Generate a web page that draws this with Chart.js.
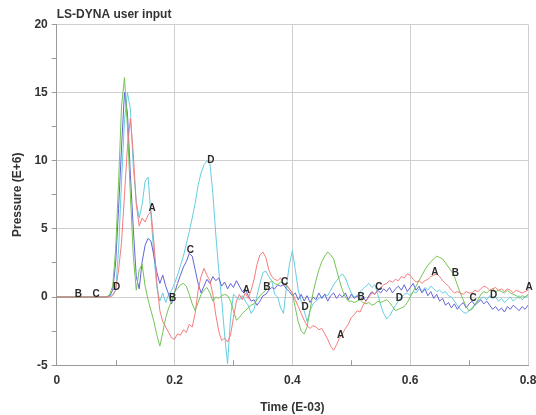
<!DOCTYPE html>
<html>
<head>
<meta charset="utf-8">
<script src="https://cdn.jsdelivr.net/npm/chart.js@4"></script>
<style>
  body { margin: 0; background: #fff; }
  #wrap { width: 536px; height: 415px; position: relative; }
</style>
</head>
<body>
<div id="wrap"><canvas id="myChart"></canvas></div>
<script>
const timeStep = 0.005;

const curveA = [
  0, 0, 0, 0, 0, 0, 0, 0, 0, 0,
  0, 0, 0, 0, 0, 0, 0, 0, 0, 0.1,
  0.5, 2.0, 4.0, 7.5, 11.0, 13.1, 10.5, 6.8, 5.2, 5.8,
  5.5, 6.0, 6.3, 4.0, 1.0, -1.0, -1.8, -2.2, -2.6, -3.0,
  -3.1, -2.7, -2.8, -2.4, -2.6, -2.0, -2.2, -1.2, 0.5, 1.5,
  2.1, 1.6, 1.2, 0.2, -1.3, -2.5, -3.2, -3.0, -3.3, -2.8,
  -1.5, -0.3, 0.2, -0.2, 0.3, -0.1, 0.5, 1.3, 2.4, 3.1,
  3.3, 2.9, 2.0, 1.5, 1.3, 1.2, 1.4, 1.0, 0.9, 0.6,
  0.3, -0.2, -0.7, -1.2, -1.7, -2.1, -2.3, -2.1, -2.2, -2.4,
  -2.3, -2.7, -3.1, -3.6, -3.9, -3.5, -3.0, -2.7, -2.3, -2.0,
  -1.5, -1.3, -1.0, -1.1, -0.6, -0.3, 0, 0.3, 0.2, 0.5,
  0.7, 0.9, 1.0, 1.2, 1.1, 1.3, 1.2, 1.5, 1.4, 1.7,
  1.6, 1.3, 1.1, 1.2, 1.0, 1.2, 1.3, 1.5, 1.6, 1.7,
  1.5, 1.2, 1.0, 0.8, 0.5, 0.3, 0.4, 0.3, 0.2, 0.4,
  0.3, 0.3, 0.5, 0.4, 0.6, 0.8, 0.7, 0.5, 0.6, 0.7,
  0.5, 0.6, 0.4, 0.6, 0.5, 0.3, 0.5, 0.4, 0.3, 0.4,
  0.5
];

const curveB = [
  0, 0, 0, 0, 0, 0, 0, 0, 0, 0,
  0, 0, 0, 0, 0, 0, 0, 0, 0.2, 0.8,
  3.5, 8.5, 14.0, 16.1, 12.5, 7.5, 3.0, 0.5, 2.0, 2.4,
  0.8, -0.2, -1.0, -1.8, -2.8, -3.6, -2.6, -1.5, -0.8, -0.3,
  0.4, 0.6, 0.9, 1.0, 0.8, 0.2, -0.5, -1.0, -0.4, 0.2,
  0.5, 0.7, 0.3, -0.3, 0, -0.1, 0.1, 0.2, 0.1, -0.3,
  -1.0, -1.7, -1.5, -1.2, -1.0, -0.8, -0.6, -0.5, -0.2, 0.1,
  0.3, 0.5, 1.0, 1.2, 1.0, 0.9, 1.1, 1.0, 0.8, 0.6,
  0.3, -0.8, -1.8, -2.5, -2.7, -2.2, -1.0, 0.3, 1.2, 2.0,
  2.6, 3.0, 3.3, 3.1, 2.8, 2.0, 1.2, 0.5, 0, -0.3,
  -0.3, -0.4, -0.3, -0.2, -0.4, -0.5, -0.4, -0.6, -0.5, -0.3,
  -0.4, -0.3, -0.2, -0.4, -0.7, -1.0, -0.9, -0.8, -0.7, -0.4,
  0, 0.4, 0.8, 1.2, 1.6, 2.0, 2.3, 2.6, 2.8, 3.0,
  2.9, 2.8, 2.5, 2.2, 1.9, 1.5, 0.9, 0.3, -0.2, -0.7,
  -1.0, -0.9, -0.6, -0.2, 0.2, 0.4, 0.3, 0.5, 0.6, 0.4,
  0.5, 0.4, 0.3, 0.5, 0.3, 0.2, 0.1, -0.1, 0.1, 0,
  0.2
];

const curveC = [
  0, 0, 0, 0, 0, 0, 0, 0, 0, 0,
  0, 0, 0, 0, 0, 0, 0, 0, 0.1, 0.5,
  2.5, 6.5, 11.0, 15.0, 13.5, 9.0, 5.0, 1.5, 0.6, 2.6,
  3.8, 4.3, 4.1, 3.0, 1.8, 1.0, 1.6, 0.8, 0.2, -0.5,
  0.3, 1.0, 1.6, 2.2, 2.6, 3.2, 3.0, 2.0, 1.0, 0.3,
  0.8, 1.3, 1.0, 1.5, 1.2, 1.4, 0.8, 1.1, 0.6, 1.0,
  0.7, 1.2, 0.8, 0.4, 0.6, 0.1, -0.3, -0.2, -0.6, -0.3,
  0.1, 0.2, 0.5, 0.7, 0.6, 0.9, 0.8, 0.9, 0.6, 0.4,
  0.1, 0.3, -0.2, 0.2, -0.3, 0.1, -0.4, 0, -0.2, 0.3,
  -0.1, 0.2, -0.3, 0.1, 0.3, -0.1, 0.2, 0, 0.3, -0.2,
  0.2, -0.1, 0.1, -0.2, 0, -0.3, 0.1, 0.4, 0.2, 0.5,
  0.3, 0.6, 0.4, 0.7, 0.3, 0.6, 0.8, 0.5, 0.9, 0.4,
  0.7, 1.0, 0.5, 0.8, 0.3, 0.6, 0.1, 0.4, -0.1, 0.2,
  -0.3, -0.1, -0.6, -0.4, -0.8, -0.5, -0.9, -0.6, -0.4, -0.8,
  -0.5, -0.3, -0.6, -0.4, -0.2, -0.5, -0.3, -0.6, -0.9, -0.7,
  -1.0, -0.8, -1.1, -0.7, -0.9, -0.6, -0.8, -1.0, -0.7, -0.9,
  -0.6
];

const curveD = [
  0, 0, 0, 0, 0, 0, 0, 0, 0, 0,
  0, 0, 0, 0, 0, 0, 0, 0, 0.1, 0.2,
  0.5, 3.5, 8.5, 13.0, 15.0, 13.8, 9.5, 7.0, 5.8, 6.8,
  8.5, 8.8, 6.0, 3.0, 0.7, -0.3, 0.3, -0.4, 0.2, 0.5,
  1.0, 1.6, 2.3, 3.0, 3.9, 4.8, 5.8, 6.9, 8.2, 9.1,
  9.7, 10.0, 9.8, 7.6, 4.6, 2.0, -0.2, -2.8, -4.9, -1.5,
  0.2, 0, -0.2, 0.1, -0.3, -0.6, -1.2, -0.9, 0.1, 1.0,
  1.8, 1.9, 1.5, 1.2, 0.2, 0.0, -0.8, -1.2, 0.8, 2.4,
  3.4, 2.0, 0.5, -0.3, -1.0, -1.8, -1.0, -0.5, -0.3, -0.1,
  0, 0.2, 0.1, 0.5, 0.9, 1.2, 1.5, 1.7, 1.4, 0.8,
  0.3, 0, 0.1, 0.4, 0.6, 0.8, 1.0, 0.7, 0.9, 0.2,
  -0.6, -1.2, -1.6, -1.4, -1.0, -0.6, -0.3, 0, 0.2, 0.3,
  0.1, 0.4, 0.3, 0.6, 0.4, 0.7, 0.5, 0.8, 0.6, 0.4,
  0.5, 0.3, 0.4, 0.1, 0, -0.3, -0.6, -0.9, -1.1, -1.2,
  -1.0, -0.8, -0.5, -0.3, -0.1, 0, -0.2, 0.1, -0.1, 0,
  -0.3, -0.1, -0.4, -0.2, 0, -0.3, -0.1, 0.1, -0.2, 0,
  0.1
];

// sample indices where the curve letter is printed
const lettersA = [32, 64, 96, 128, 160];
const lettersB = [7, 39, 71, 103, 135];
const lettersC = [13, 45, 77, 109, 141];
const lettersD = [20, 52, 84, 116, 148];

const minorTimes = [0.1, 0.3, 0.5, 0.7];

Chart.defaults.font.family = '"Liberation Sans", Arial, sans-serif';
Chart.defaults.color = '#333';

function toPoints(values) {
    return values.map((v, i) => ({ x: i * timeStep, y: v }));
}

const curveLetters = {
    id: 'curveLetters',
    afterDraw(chart) {
        const ctx = chart.ctx;
        ctx.save();
        // inward minor ticks on the time axis
        const xs = chart.scales.x;
        const bottom = chart.chartArea.bottom;
        ctx.strokeStyle = '#9a9a9a';
        ctx.lineWidth = 1;
        minorTimes.forEach((t) => {
            const px = Math.round(xs.getPixelForValue(t)) + 0.5;
            ctx.beginPath();
            ctx.moveTo(px, bottom);
            ctx.lineTo(px, bottom - 5);
            ctx.stroke();
        });
        ctx.font = 'bold 10px "Liberation Sans", Arial, sans-serif';
        ctx.fillStyle = '#2a2a2a';
        ctx.textAlign = 'center';
        ctx.textBaseline = 'middle';
        chart.data.datasets.forEach((ds, k) => {
            const meta = chart.getDatasetMeta(k);
            ds.letterAt.forEach((i) => {
                const p = meta.data[i];
                if (p) ctx.fillText(ds.label, p.x + 1, p.y - 3);
            });
        });
        ctx.restore();
    }
};

function createChart() {
    const ctx = document.getElementById('myChart').getContext('2d');
    const mk = (label, values, color, letters) => ({
        label: label,
        data: toPoints(values),
        borderColor: color,
        borderWidth: 1,
        pointRadius: 0,
        tension: 0,
        letterAt: letters
    });
    const config = {
        type: 'line',
        data: {
            datasets: [
                mk('A', curveA, '#f47c7c', lettersA),
                mk('B', curveB, '#74c455', lettersB),
                mk('C', curveC, '#6464d8', lettersC),
                mk('D', curveD, '#66cde0', lettersD)
            ]
        },
        options: {
            responsive: true,
            maintainAspectRatio: false,
            animation: false,
            layout: { padding: { left: 5, top: 0, right: 0, bottom: 0 } },
            scales: {
                x: {
                    type: 'linear',
                    min: 0,
                    max: 0.8,
                    afterFit: (s) => { s.paddingRight = 8; },
                    border: { color: '#9a9a9a', width: 1 },
                    grid: {
                        drawTicks: false,
                        color: (c) => (Math.round(c.tick.value * 10) % 2 === 0 ? '#cfcfcf' : 'rgba(0,0,0,0)')
                    },
                    ticks: {
                        stepSize: 0.1,
                        padding: 8,
                        maxRotation: 0,
                        font: { size: 12, weight: 'bold' },
                        callback: (v) => (Math.round(v * 10) % 2 === 0 ? String(Math.round(v * 10) / 10) : '')
                    },
                    title: {
                        display: true,
                        text: 'Time (E-03)',
                        font: { size: 12, weight: 'bold' },
                        padding: { top: 5, bottom: 0 }
                    }
                },
                y: {
                    min: -5,
                    max: 20,
                    border: { color: '#9a9a9a', width: 1 },
                    grid: {
                        tickLength: 5,
                        tickColor: '#9a9a9a',
                        color: (c) => (c.tick.value % 5 === 0 ? '#cfcfcf' : 'rgba(0,0,0,0)')
                    },
                    ticks: {
                        stepSize: 2.5,
                        padding: 4,
                        font: { size: 12, weight: 'bold' },
                        callback: (v) => (v % 5 === 0 ? String(v) : '')
                    },
                    title: {
                        display: true,
                        text: 'Pressure (E+6)',
                        font: { size: 12, weight: 'bold' },
                        padding: { top: 5, bottom: 6 }
                    }
                }
            },
            plugins: {
                legend: { display: false },
                tooltip: { enabled: false },
                title: {
                    display: true,
                    text: 'LS-DYNA user input',
                    align: 'start',
                    fullSize: false,
                    color: '#333',
                    font: { size: 12, weight: 'bold' },
                    padding: { top: 7, bottom: 3 }
                }
            }
        },
        plugins: [curveLetters]
    };
    new Chart(ctx, config);
}

createChart();
</script>
</body>
</html>
